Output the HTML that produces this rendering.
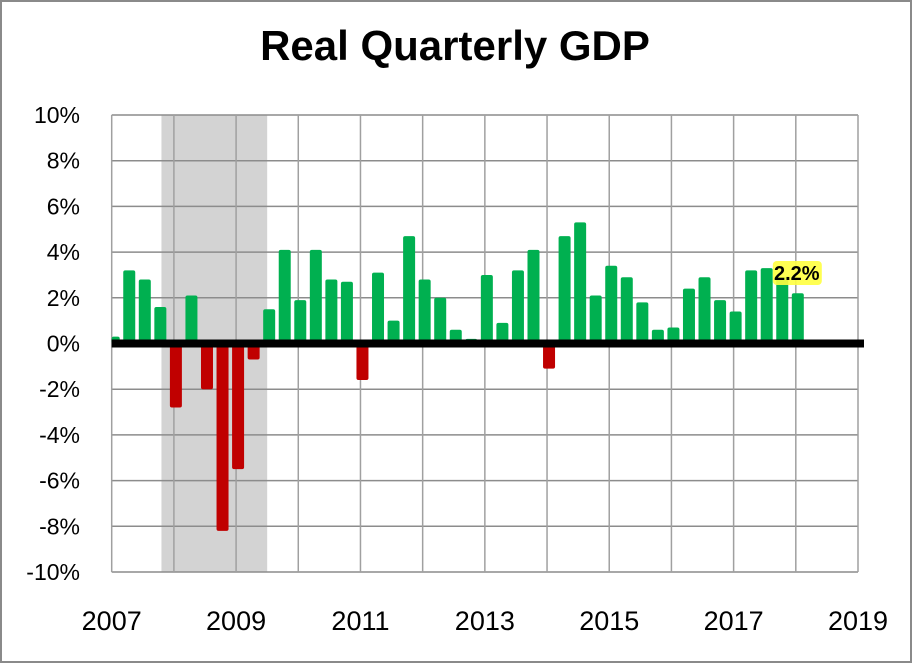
<!DOCTYPE html>
<html><head><meta charset="utf-8"><style>
html,body{margin:0;padding:0;background:#fff;}
svg{display:block;font-family:"Liberation Sans",sans-serif;}
</style></head><body>
<svg id="chart" width="912" height="663" viewBox="0 0 912 663">
<rect x="1" y="1" width="910" height="661" fill="#fff" stroke="#8a8a8a" stroke-width="2"/>
<text x="455" y="60" text-anchor="middle" font-size="42" font-weight="bold" fill="#000">Real Quarterly GDP</text>
<g id="recession"></g><g id="grid"></g><g id="bars"></g><g id="zero"></g><g id="labels"></g>
</svg>
<script>
const years = [2007,2009,2011,2013,2015,2017,2019];
const yTicks = [10,8,6,4,2,0,-2,-4,-6,-8,-10];
const gdpValues = [0.3,3.2,2.8,1.6,-2.8,2.1,-2.0,-8.2,-5.5,-0.7,1.5,4.1,1.9,4.1,2.8,2.7,-1.6,3.1,1.0,4.7,2.8,2.0,0.6,0.2,3.0,0.9,3.2,4.1,-1.1,4.7,5.3,2.1,3.4,2.9,1.8,0.6,0.7,2.4,2.9,1.9,1.4,3.2,3.3,2.9,2.2];
const recessionStart = 2007.8, recessionEnd = 2009.5;
const latestLabel = "2.2%";
const NS="http://www.w3.org/2000/svg";
const X0=111.7, X1=858, Y0=2007, Y1=2019;
const x = yr => X0 + (yr-Y0)*(X1-X0)/(Y1-Y0);
const y = v => 343.5 - v*22.85;
function mk(tag, parent, attrs){const e=document.createElementNS(NS,tag);for(const k in attrs)e.setAttribute(k,attrs[k]);document.getElementById(parent).appendChild(e);return e;}
let r=mk('rect','recession',{x:x(recessionStart),y:y(10),width:x(recessionEnd)-x(recessionStart),height:y(-10)-y(10),fill:'#d3d3d3'});


yTicks.forEach(t=>{
  const l=mk('line','grid',{x1:x(2007),x2:x(2019),y1:y(t),y2:y(t),stroke:'#8c8c8c','stroke-width':1.5});
  
  
  const tx=mk('text','labels',{x:80,y:y(t)+8,'text-anchor':'end','font-size':23,fill:'#000'});
  tx.textContent=t+'%';
  
  
});
for(let yr=2007;yr<=2019;yr++){
  const l=mk('line','grid',{x1:x(yr),x2:x(yr),y1:y(10),y2:y(-10),stroke:'#a0a0a0','stroke-width':1.5});
  
  
}
years.forEach(yr=>{
  const tx=mk('text','labels',{x:x(yr),y:630,'text-anchor':'middle','font-size':27,fill:'#000'});
  tx.textContent=yr;
  
  
});
const bw=12;
gdpValues.forEach((v,i)=>{
  const cx=x(2007+i*0.25)+2;
  let left=cx-bw/2, w=bw;
  if(left<X0){w-=X0-left;left=X0;}
  const top=Math.min(y(v),y(0)), h=Math.abs(y(v)-y(0));
  const b=mk('rect','bars',{x:left,y:top,width:w,height:h,rx:2,fill:v<0?'#c00000':'#00b050'});
  
  
});
const z=mk('line','zero',{x1:X0,x2:864,y1:y(0),y2:y(0),stroke:'#000','stroke-width':8});


const li=gdpValues.length-1, lx=x(2007+li*0.25)+2;
const bg=mk('rect','labels',{x:lx-25,y:261,width:49,height:24,rx:4,fill:'#ffff40',opacity:0.9});


const lt=mk('text','labels',{x:lx-1,y:280,'text-anchor':'middle','font-size':20,'font-weight':'bold',fill:'#000'});
lt.textContent=latestLabel;


</script>
</body></html>
